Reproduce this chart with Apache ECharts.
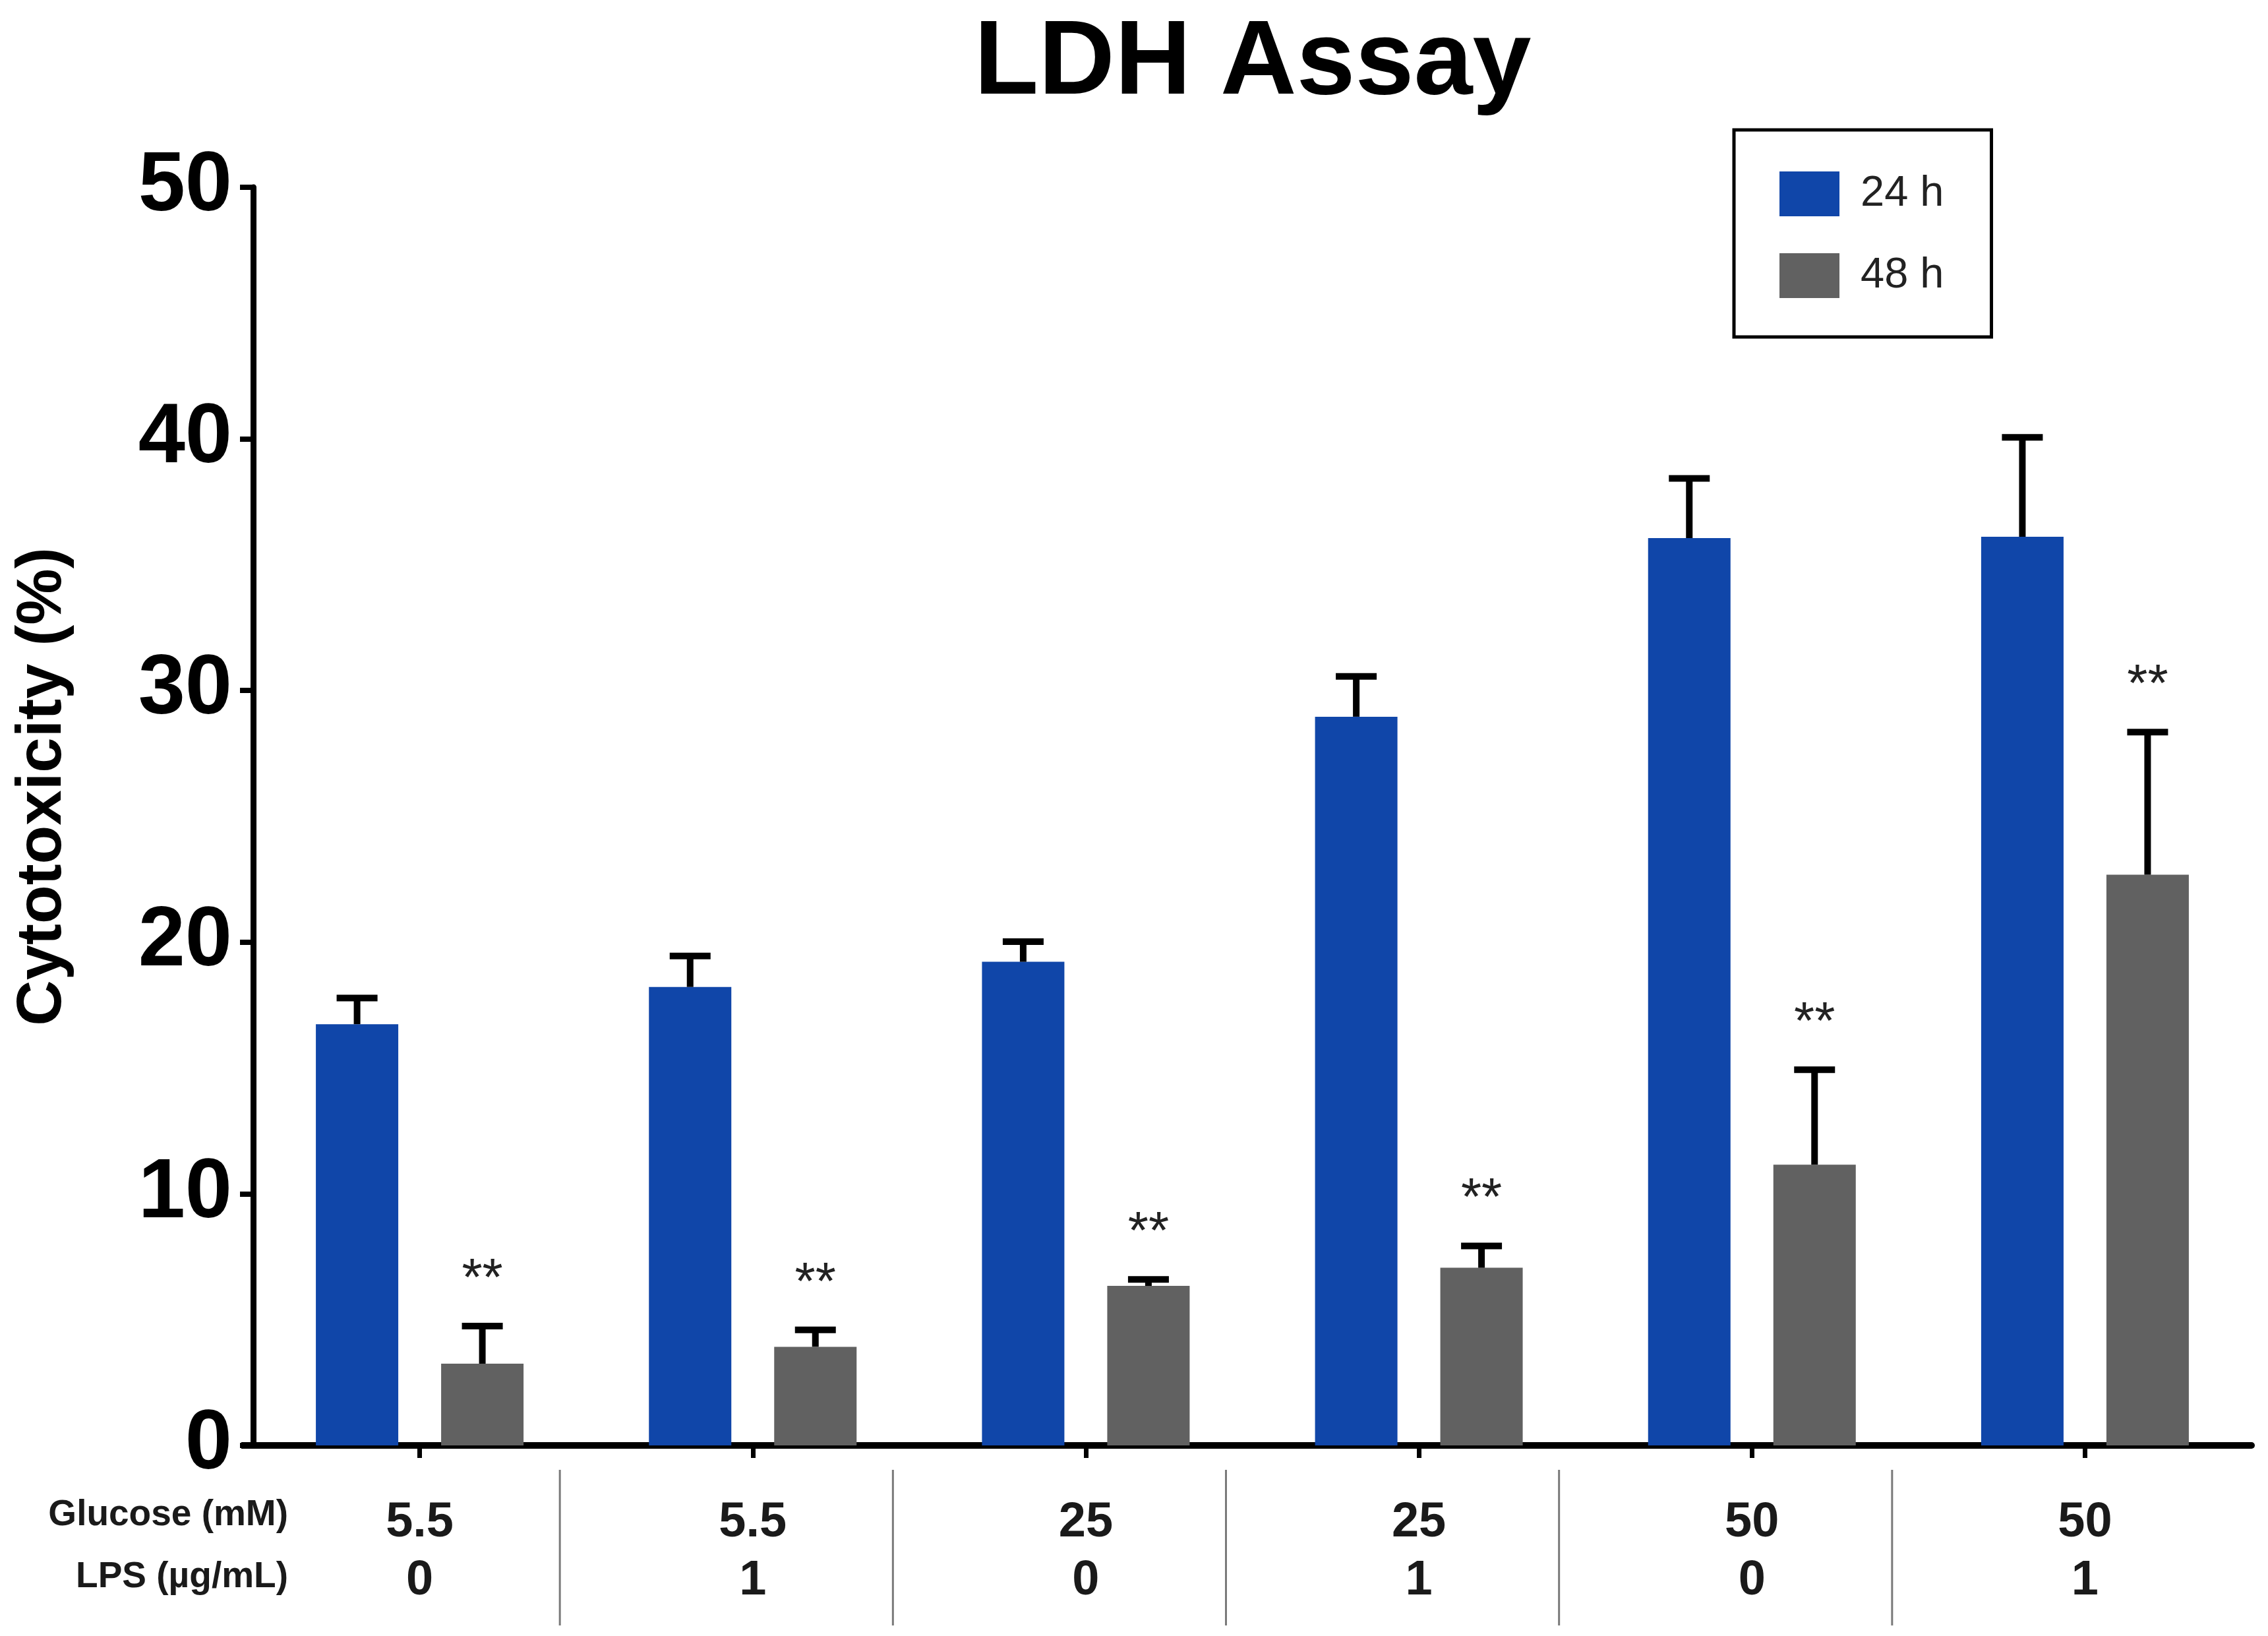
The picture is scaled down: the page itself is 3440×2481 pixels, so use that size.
<!DOCTYPE html>
<html>
<head>
<meta charset="utf-8">
<script src="https://cdn.jsdelivr.net/npm/echarts@6/dist/echarts.min.js"></script>
<style>
html,body{margin:0;padding:0;background:#fff;}
#chart{width:3440px;height:2481px;}
</style>
</head>
<body>
<div id="chart"></div>
<script>
// ---- data ----
const glucose = ['5.5', '5.5', '25', '25', '50', '50'];
const lps = ['0', '1', '0', '1', '0', '1'];
const seriesNames = ['24 h', '48 h'];
const mean24 = [16.74, 18.22, 19.22, 28.96, 36.06, 36.11];
const err24 = [1.04, 1.23, 0.80, 1.60, 2.37, 3.95];
const mean48 = [3.25, 3.92, 6.34, 7.06, 11.16, 22.68];
const err48 = [1.49, 0.67, 0.26, 0.87, 3.77, 5.67];
const sig48 = ['**', '**', '**', '**', '**', '**'];
const yTicks = [0, 10, 20, 30, 40, 50];
const rowLabels = ['Glucose (mM)', 'LPS (\u00b5g/mL)'];

const FONT = '"Liberation Sans", Arial, Helvetica, sans-serif';
const BLUE = '#1046a9';
const GRAY = '#616161';
const BAR_W = 125;
const BAR_GAP_PX = 65;
const OFFSET = (BAR_W + BAR_GAP_PX) / 2;

const categories = glucose.map((g, i) => g + '\n' + lps[i]);

function errSeries(mean, err, offset, sig) {
  return {
    type: 'custom',
    z: 5,
    silent: true,
    data: mean.map((m, i) => [i, m, err[i]]),
    encode: { x: 0, y: 1 },
    renderItem: function (params, api) {
      const i = api.value(0), m = api.value(1), e = api.value(2);
      const p0 = api.coord([i, m]);
      const p1 = api.coord([i, m + e]);
      const cx = p0[0] + offset;
      const children = [
        { type: 'line', shape: { x1: cx, y1: p0[1], x2: cx, y2: p1[1] },
          style: { stroke: '#000', lineWidth: 10 } },
        { type: 'line', shape: { x1: cx - 31, y1: p1[1], x2: cx + 31, y2: p1[1] },
          style: { stroke: '#000', lineWidth: 10 } }
      ];
      if (sig && sig[params.dataIndex]) {
        children.push({ type: 'text', x: cx, y: p1[1] - 69,
          style: { text: sig[params.dataIndex], font: '80px ' + FONT, fill: '#222',
                   align: 'center', verticalAlign: 'middle' } });
      }
      return { type: 'group', children: children };
    }
  };
}

const chart = echarts.init(document.getElementById('chart'), null, { renderer: 'canvas' });

const option = {
  backgroundColor: '#fff',
  animation: false,
  title: {
    text: 'LDH Assay',
    left: 1900,
    textAlign: 'center',
    top: 18,
    padding: 0,
    textStyle: { fontFamily: FONT, fontSize: 160, fontWeight: 'bold', color: '#000' }
  },
  legend: {
    data: seriesNames,
    orient: 'vertical',
    left: 2630,
    top: 197,
    padding: [63, 72, 59, 69],
    itemWidth: 91,
    itemHeight: 68,
    itemGap: 56,
    borderColor: '#000',
    borderWidth: 5,
    icon: 'rect',
    textStyle: { fontFamily: FONT, fontSize: 65, color: '#222', padding: [6, 0, 0, 27] }
  },
  grid: {
    left: 384, right: 25, top: 284, bottom: 289,
    containLabel: false,
    outerBoundsMode: 'none'
  },
  xAxis: {
    type: 'category',
    data: categories,
    axisLine: { show: true, lineStyle: { color: '#000', width: 10 } },
    axisTick: { show: true, alignWithLabel: true, length: 19, lineStyle: { color: '#000', width: 7 } },
    axisLabel: {
      margin: 74,
      fontFamily: FONT, fontSize: 74, fontWeight: 'bold', color: '#1a1a1a',
      lineHeight: 88, interval: 0
    },
    splitLine: { show: false }
  },
  yAxis: {
    type: 'value',
    min: 0, max: 50, interval: 10,
    name: 'Cytotoxicity (%)',
    nameLocation: 'middle',
    nameRotate: 90,
    nameGap: 270,
    nameTextStyle: { fontFamily: FONT, fontSize: 96, fontWeight: 'bold', color: '#000',
                     padding: [0, 0, 0, 90] },
    axisLine: { show: true, lineStyle: { color: '#000', width: 9 } },
    axisTick: { show: true, length: 20, lineStyle: { color: '#000', width: 8 } },
    axisLabel: {
      margin: 32,
      fontFamily: FONT, fontSize: 128, fontWeight: 'bold', color: '#000',
      customValues: yTicks
    },
    splitLine: { show: false }
  },
  series: [
    { name: seriesNames[0], type: 'bar', data: mean24, barWidth: BAR_W,
      barGap: (BAR_GAP_PX / BAR_W * 100) + '%', itemStyle: { color: BLUE } },
    { name: seriesNames[1], type: 'bar', data: mean48, barWidth: BAR_W,
      itemStyle: { color: GRAY } },
    errSeries(mean24, err24, -OFFSET, null),
    errSeries(mean48, err48, OFFSET, sig48)
  ]
};
chart.setOption(option);

// separators and row labels of the bottom table
const px = categories.map((c, i) => chart.convertToPixel({ xAxisIndex: 0 }, i));
const zeroY = chart.convertToPixel({ yAxisIndex: 0 }, 0);
const graphics = [];
for (let i = 0; i < px.length - 1; i++) {
  const x = (px[i] + px[i + 1]) / 2 - 40;
  graphics.push({ type: 'line', shape: { x1: x, y1: 2229, x2: x, y2: 2465 },
                  style: { stroke: '#7a7a7a', lineWidth: 3 } });
}
// short extension of the x axis line to the left of the y axis
graphics.push({ type: 'line', shape: { x1: 366, y1: zeroY, x2: 388, y2: zeroY },
                style: { stroke: '#000', lineWidth: 10 } });
graphics.push({ type: 'text', x: 437, y: 2298,
  style: { text: rowLabels[0], font: 'bold 55px ' + FONT, fill: '#1a1a1a', align: 'right', verticalAlign: 'middle' } });
graphics.push({ type: 'text', x: 437, y: 2392,
  style: { text: rowLabels[1], font: 'bold 55px ' + FONT, fill: '#1a1a1a', align: 'right', verticalAlign: 'middle' } });
chart.setOption({ graphic: graphics });
</script>
</body>
</html>
